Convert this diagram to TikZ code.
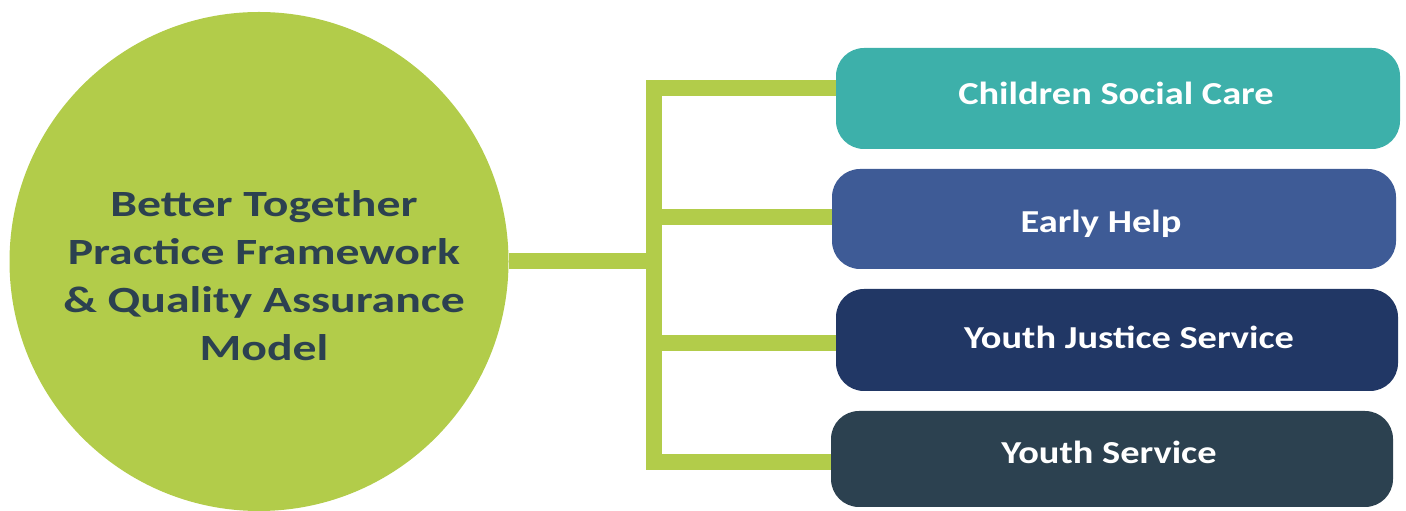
\documentclass[tikz,border=0pt]{standalone}
\usepackage{fontspec}
\setmainfont{Carlito}
\newfontfamily\boxfont[FakeStretch=1.2]{Carlito}
\newfontfamily\hubfont[FakeStretch=1.29]{Carlito}
\definecolor{leaf}{RGB}{178,204,74}
\definecolor{teal}{RGB}{61,176,170}
\definecolor{ehblue}{RGB}{62,91,150}
\definecolor{navy}{RGB}{33,55,101}
\definecolor{slate}{RGB}{44,65,80}
\tikzset{
  svcbox/.style={rectangle, rounded corners=28pt, inner sep=0pt, text=white,
    font=\boxfont\fontsize{32}{38}\selectfont\bfseries},
  bar/.style={draw=leaf, line width=16pt, line join=miter}
}
\begin{document}
\begin{tikzpicture}[x=1pt,y=1pt]
\useasboundingbox (0,0) rectangle (1406,511);
% hub
\node (hub) [circle, fill=leaf, minimum size=499pt, inner sep=0pt] at (259,249.5) {};
\node (hubtxt) [text=slate, align=center, font=\hubfont\fontsize{37}{48}\selectfont\bfseries] at (264,235)
  {Better Together\\Practice Framework\\\& Quality Assurance\\Model};
% boxes
\node (csc) [svcbox, fill=teal, minimum width=564pt, minimum height=101pt] at (1118,412.5) {};
\node (eh)  [svcbox, fill=ehblue, minimum width=564pt, minimum height=100pt] at (1114,292) {};
\node (yjs) [svcbox, fill=navy, minimum width=562pt, minimum height=102pt] at (1117,171) {};
\node (ys)  [svcbox, fill=slate, minimum width=562pt, minimum height=96pt] at (1112,52) {};
\node (csct) [svcbox] at (1116,418) {Children Social Care};
\node (eht)  [svcbox] at (1101,287) {Early Help};
\node (yjst) [svcbox] at (1129,174) {Youth Justice Service};
\node (yst)  [svcbox] at (1109,59) {Youth Service};
% connectors
\coordinate (tTop) at (654,423);
\coordinate (tB) at (654,294);
\coordinate (tC) at (654,168);
\coordinate (tBot) at (654,49);
\draw[bar] (csc.west |- tTop) -- (tTop) -- (tBot) -- (ys.west |- tBot);
\draw[bar] (tB) -- (eh.west |- tB);
\draw[bar] (tC) -- (yjs.west |- tC);
\draw[bar] (hub.east) -- (hub.east -| tTop);
\end{tikzpicture}
\end{document}
